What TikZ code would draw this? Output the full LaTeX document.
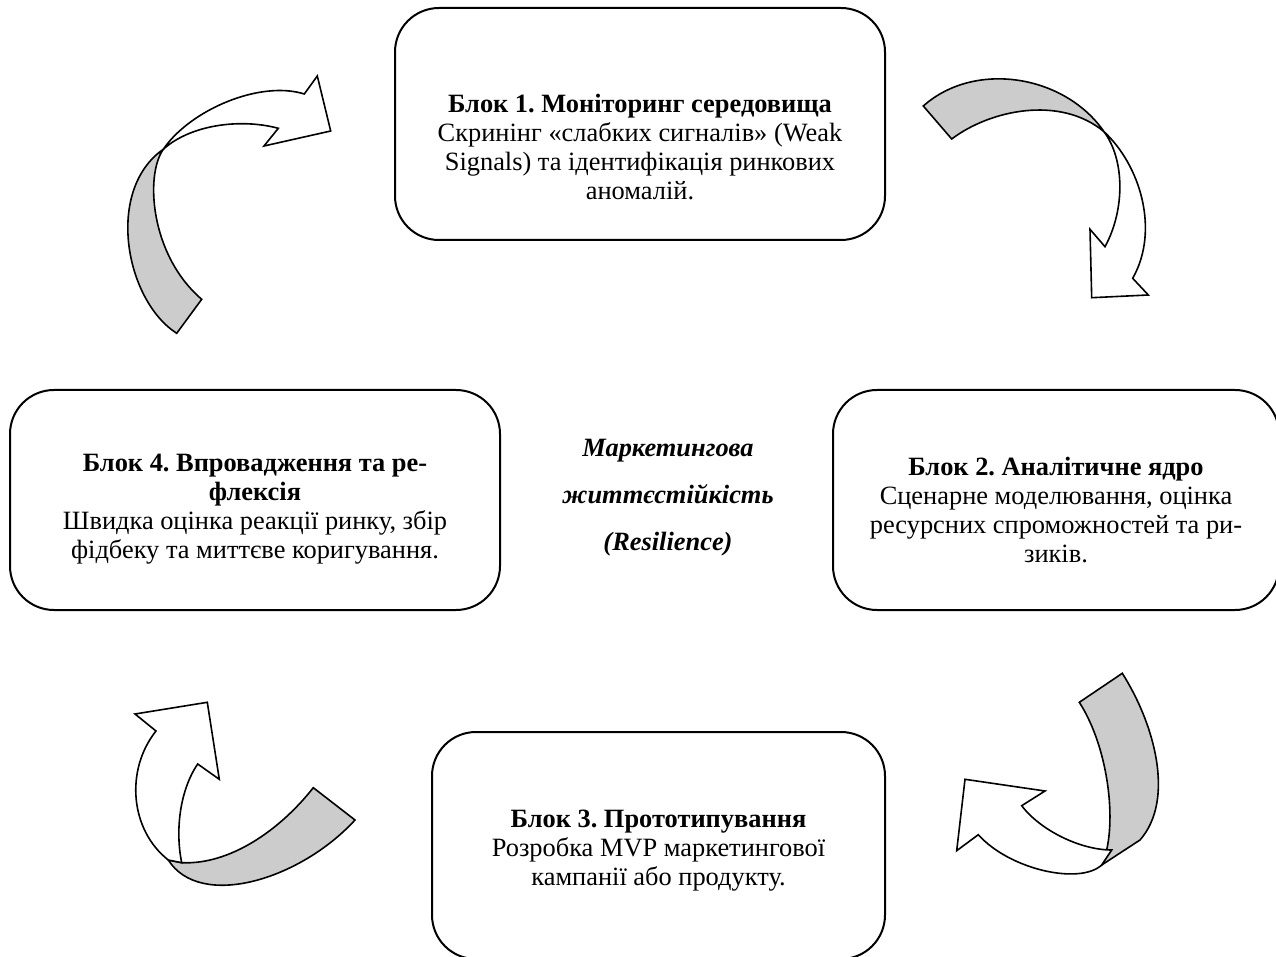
\documentclass[tikz,border=0pt]{standalone}
\usepackage{fontspec}
\setmainfont{Liberation Serif}
\usepackage{tikz}
\usetikzlibrary{positioning}
\frenchspacing

\begin{document}
\begin{tikzpicture}[x=0.5pt, y=-0.5pt,
    blok/.style={draw, line width=1pt, rounded corners=22pt, inner sep=0pt},
    txt/.style={align=center, font=\fontsize{13.2}{14.5}\selectfont},
    zvorot/.style={draw, line width=0.8pt, fill=gray!40},
    lice/.style={draw, line width=0.8pt, fill=white}]
        \useasboundingbox (0,0) rectangle (1276,957);

        % Blocks
        \node[blok, minimum width=245pt, minimum height=116pt] (b1) at (640,124) {};
        \node[blok, minimum width=223pt, minimum height=110pt] (b2) at (1056,500) {};
        \node[blok, minimum width=226.5pt, minimum height=113.5pt] (b3) at (658.5,845.5) {};
        \node[blok, minimum width=245pt, minimum height=110pt] (b4) at (255,500) {};

        \node[txt] (t1) at ([yshift=-11.5pt]b1.center) {\textbf{Блок 1. Моніторинг середовища}\\
            Скринінг «слабких сигналів» (Weak\\ Signals) та ідентифікація ринкових\\ аномалій.};
        \node[txt] (t2) at ([yshift=-5pt]b2.center) {\textbf{Блок 2. Аналітичне ядро}\\
            Сценарне моделювання, оцінка\\ ресурсних спроможностей та ри-\\ зиків.};
        \node[txt] (t3) at ([yshift=-2.5pt]b3.center) {\textbf{Блок 3. Прототипування}\\
            Розробка MVP маркетингової\\ кампанії або продукту.};
        \node[txt] (t4) at ([yshift=-4.5pt]b4.center) {\textbf{Блок 4. Впровадження та ре-}\\
            \textbf{флексія}\\ Швидка оцінка реакції ринку, збір\\ фідбеку та миттєве коригування.};

        % Centre
        \node[align=center, font=\fontsize{13.2}{23.5}\selectfont\bfseries\itshape] (core) at (668,498)
            {Маркетингова\\ життєстійкість\\ (Resilience)};

        % Arrow 1 -> 2
        \filldraw[zvorot] (923.3,106) -- (951.7,139) .. controls (990,110) and (1060,95) .. (1104,131.7)
            .. controls (1065,75) and (975,60) .. cycle;
        \filldraw[lice] (1104,131.7) .. controls (1140,165) and (1160,230) .. (1132.7,278.3)
            -- (1148.3,295) -- (1091.7,297.7) -- (1090,229.3) -- (1105,246.7)
            .. controls (1125,210) and (1125,160) .. cycle;

        % Arrow 2 -> 3
        \filldraw[zvorot] (1079.3,702.3) -- (1122.3,673.3) .. controls (1155,725) and (1175,800) .. (1140,840)
            -- (1101.7,865) .. controls (1118,830) and (1110,750) .. cycle;
        \filldraw[lice] (1101.7,865) .. controls (1080,885) and (1010,870) .. (978.3,834.7)
            -- (956.7,850.7) -- (965,779.3) -- (1045,791) -- (1021.7,805.7)
            .. controls (1040,830) and (1080,850) .. (1111.7,850) -- cycle;

        % Arrow 3 -> 4
        \filldraw[zvorot] (313.3,787.7) -- (355,820) .. controls (300,880) and (200,910) .. (168.3,860)
            -- (181.7,862.7) .. controls (230,865) and (280,830) .. cycle;
        \filldraw[lice] (168.3,860) .. controls (130,830) and (125,770) .. (156,731)
            -- (135,714) -- (207.3,702.3) -- (219.3,779.3) -- (197.7,764)
            .. controls (180,790) and (175,830) .. (181.7,862.7) -- cycle;

        % Arrow 4 -> 1
        \filldraw[zvorot] (176.7,333.3) .. controls (125,300) and (105,190) .. (163.3,149.3)
            .. controls (145,175) and (150,255) .. (201.7,299.3) -- cycle;
        \filldraw[lice] (163.3,149.3) .. controls (190,110) and (260,80) .. (304.3,94)
            -- (317.3,76) -- (330.7,131) -- (264,146) -- (278.3,128.3)
            .. controls (240,118) and (190,125) .. cycle;
    \end{tikzpicture}
\end{document}
